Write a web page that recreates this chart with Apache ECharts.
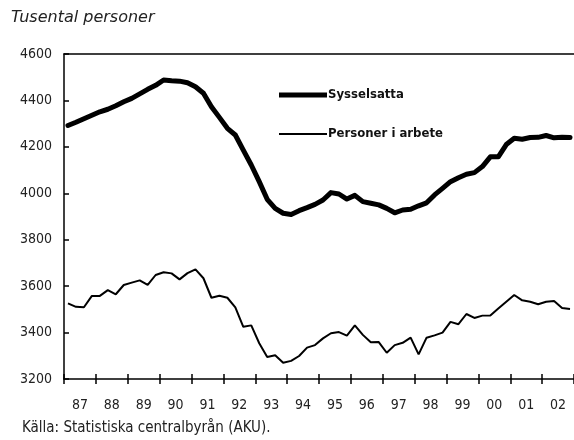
<!DOCTYPE html>
<html>
<head>
<meta charset="utf-8">
<script src="https://cdn.jsdelivr.net/npm/echarts@6/dist/echarts.min.js"></script>
<style>
  html, body { margin: 0; padding: 0; background: #fff; }
  #chart { width: 574px; height: 440px; }
</style>
</head>
<body>
<div id="chart"></div>
<script>
// år på x-axeln, kvartalsdata 1987K1 - 2002K4
var years = ['87', '88', '89', '90', '91', '92', '93', '94', '95', '96', '97', '98', '99', '00', '01', '02'];
var quarters = [];
for (var y = 0; y < years.length; y++) {
    for (var q = 1; q <= 4; q++) {
        quarters.push(years[y] + 'K' + q);
    }
}

var sysselsatta = [
    4292, 4306, 4321, 4336, 4351, 4362, 4377, 4394,
    4409, 4428, 4448, 4465, 4488, 4485, 4483, 4476,
    4459, 4431, 4373, 4327, 4280, 4251, 4186, 4122,
    4050, 3974, 3935, 3914, 3909, 3925, 3938, 3952,
    3971, 4003, 3997, 3975, 3991, 3964, 3957, 3950,
    3935, 3916, 3928, 3931, 3946, 3959, 3993, 4021,
    4050, 4067, 4082, 4089, 4115, 4157, 4157, 4210,
    4237, 4233, 4240, 4241, 4249, 4239, 4241, 4240
];

var personerIArbete = [
    3526, 3511, 3509, 3558, 3558, 3583, 3565, 3605,
    3615, 3625, 3605, 3648, 3660, 3655, 3629, 3656,
    3672, 3634, 3550, 3559, 3550, 3509, 3425, 3431,
    3354, 3295, 3302, 3270, 3278, 3299, 3335, 3346,
    3375, 3397, 3402, 3387, 3431, 3390, 3358, 3359,
    3313, 3346, 3356, 3378, 3306, 3378, 3388, 3400,
    3446, 3436, 3480, 3463, 3473, 3474, 3504, 3533,
    3562, 3539, 3533, 3522, 3533, 3536, 3506, 3502
];

var yTicks = { min: 3200, max: 4600, interval: 200 };

var narrow = "'DejaVu Sans Condensed', 'Liberation Sans', sans-serif";

var myChart = echarts.init(document.getElementById('chart'), null, { renderer: 'canvas' });

var option = {
    backgroundColor: '#fff',
    animation: false,
    title: {
        text: 'Tusental personer',
        left: 6,
        top: 5,
        textStyle: {
            fontFamily: "'DejaVu Sans', sans-serif",
            fontStyle: 'italic',
            fontWeight: 'normal',
            fontSize: 16,
            color: '#222'
        }
    },
    graphic: [{
        type: 'text',
        left: 22,
        top: 421,
        style: {
            text: 'Källa: Statistiska centralbyrån (AKU).',
            font: '15px ' + narrow,
            fill: '#222'
        }
    }],
    legend: {
        orient: 'vertical',
        left: 279,
        top: 87,
        padding: 0,
        itemWidth: 48,
        itemHeight: 16,
        itemGap: 23,
        textStyle: {
            fontFamily: narrow,
            fontWeight: 'bold',
            fontSize: 13,
            lineHeight: 16,
            color: '#111',
            padding: [0, 0, 0, -4]
        },
        data: [
            { name: 'Sysselsatta', icon: 'path://M0,0H48V5H0Z' },
            { name: 'Personer i arbete', icon: 'path://M0,0H48V2H0Z' }
        ]
    },
    grid: {
        left: 64,
        top: 54,
        width: 512,
        height: 325
    },
    xAxis: [{
        type: 'category',
        position: 'bottom',
        data: quarters,
        boundaryGap: true,
        axisLine: { lineStyle: { color: '#000', width: 1.5 } },
        axisTick: { show: true, interval: 3, length: 5, lineStyle: { color: '#000', width: 1.5 } },
        axisLabel: { show: false },
        splitLine: { show: false }
    }, {
        type: 'category',
        position: 'bottom',
        data: quarters,
        boundaryGap: true,
        axisLine: { show: false },
        axisTick: { show: true, inside: true, interval: 3, length: 5, lineStyle: { color: '#000', width: 1.5 } },
        axisLabel: { show: false },
        splitLine: { show: false }
    }, {
        type: 'category',
        position: 'bottom',
        data: years,
        boundaryGap: true,
        axisLine: { show: false },
        axisTick: { show: false },
        axisLabel: {
            margin: 19,
            fontFamily: narrow,
            fontSize: 14,
            color: '#222'
        },
        splitLine: { show: false }
    }, {
        type: 'category',
        position: 'top',
        data: years,
        axisLine: { lineStyle: { color: '#000', width: 1.5 } },
        axisTick: { show: false },
        axisLabel: { show: false },
        splitLine: { show: false }
    }],
    yAxis: {
        type: 'value',
        min: yTicks.min,
        max: yTicks.max,
        interval: yTicks.interval,
        axisLine: { show: true, lineStyle: { color: '#000', width: 1.5 } },
        axisTick: { show: true, inside: true, length: 5, lineStyle: { color: '#000', width: 1.5 } },
        axisLabel: {
            margin: 12,
            fontFamily: narrow,
            fontSize: 14,
            color: '#222',
            formatter: function (v) { return String(v); }
        },
        splitLine: { show: false }
    },
    series: [{
        name: 'Sysselsatta',
        type: 'line',
        xAxisIndex: 0,
        data: sysselsatta,
        symbol: 'none',
        smooth: false,
        lineStyle: { color: '#000', width: 5, join: 'round', cap: 'round' },
        itemStyle: { color: '#000' }
    }, {
        name: 'Personer i arbete',
        type: 'line',
        xAxisIndex: 0,
        data: personerIArbete,
        symbol: 'none',
        lineStyle: { color: '#000', width: 2 },
        itemStyle: { color: '#000' }
    }]
};

myChart.setOption(option);
</script>
</body>
</html>
